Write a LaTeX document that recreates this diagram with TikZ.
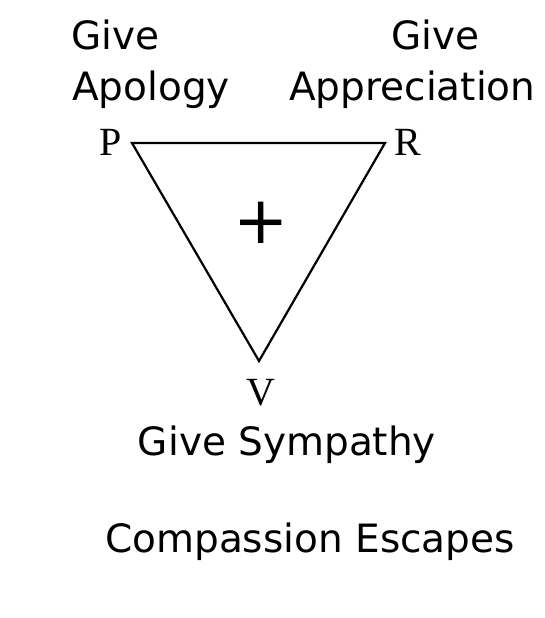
\documentclass[tikz,border=0pt]{standalone}
\usepackage{fontspec}
\setmainfont{DejaVu Sans}
\newfontfamily\vertexfont{Liberation Serif}
\begin{document}
\begin{tikzpicture}[x=1pt,y=-1pt,
  word/.style={inner sep=0pt,font=\fontsize{39}{46}\selectfont},
  corner/.style={inner sep=0pt,font=\vertexfont\fontsize{40}{46}\selectfont},
  side/.style={line width=2.2pt,line join=miter}]
\useasboundingbox (0,0) rectangle (544,618);
% corners of the triangle
\coordinate (tp) at (132,143);
\coordinate (tr) at (385,143);
\coordinate (tv) at (259,361);
\draw[side] (tp)--(tr)--(tv)--cycle;
\node[font=\fontsize{66}{66}\selectfont,inner sep=0pt] (plus) at (261,223) {+};
% vertex letters
\node[corner,anchor=base west] (p) at (99,155) {P};
\node[corner,anchor=base west] (r) at (394,155) {R};
\node[corner,anchor=base] (v) at (261,405) {V};
% labels
\node[word,anchor=base west] (givel) at (71,50) {Give};
\node[word,anchor=base west] (apology) at (72,100) {Apology};
\node[word,anchor=base west] (giver) at (391,50) {Give};
\node[word,anchor=base west] (appreciation) at (289,100) {Appreciation};
\node[word,anchor=base] (sympathy) at (287,455) {Give Sympathy};
\node[word,anchor=base] (escapes) at (310,552) {Compassion Escapes};
\end{tikzpicture}
\end{document}
